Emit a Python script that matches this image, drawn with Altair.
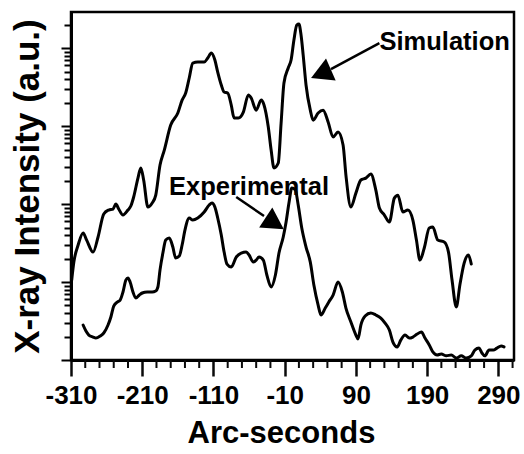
import altair as alt
import pandas as pd

# Double-crystal rocking curves: arc-seconds vs X-ray intensity (a.u.)
sim_x = [-309, -306, -300, -293, -288, -279, -272, -264, -257, -251,
         -247, -243, -237, -230, -226, -222, -216, -212, -208, -202,
         -196, -191, -185, -179, -170, -160, -154, -149, -144, -139,
         -132, -123, -118, -113, -108, -104, -99, -95, -90, -85,
         -81, -75, -68, -61, -57, -50, -43, -39, -33, -29,
         -25, -19, -15, -11, -5, -1, 3, 7, 10, 13,
         16, 20, 26, 30, 37, 44, 51, 58, 65, 72,
         76, 83, 90, 97, 104, 111, 118, 123, 130, 137,
         144, 149, 156, 163, 170, 175, 180, 186, 193, 198,
         205, 214, 220, 225, 231, 236, 242, 248, 252]
sim_y = [10.6, 18.0, 29.8, 42.5, 34.5, 24.2, 37.8, 74.5, 83.8, 86.3,
         100, 86.3, 72.3, 83.8, 94.3, 123, 215, 290, 203, 91.5,
         103, 130, 316, 492, 1030, 1470, 2150, 2650, 4130, 6420,
         6620, 6620, 7450, 8630, 7020, 4920, 3360, 2730, 2650, 1860,
         1270, 1270, 1510, 2500, 2290, 1600, 2150, 1860, 971, 492,
         290, 336, 1090, 3560, 5550, 7020, 12700, 19700, 20300, 14700,
         8130, 3360, 1600, 1190, 1470, 1600, 1130, 723, 838, 571,
         235, 91.5, 138, 203, 215, 242, 151, 88.9, 72.3, 58.8,
         119, 130, 78.9, 83.8, 62.3, 34.5, 19.1, 27.3, 49.3, 50.7,
         34.5, 32.6, 24.2, 10.6, 4.78, 9.16, 17.5, 22.2, 17.0]

exp_x = [-293, -289, -285, -279, -275, -269, -264, -258, -254, -250,
         -245, -241, -237, -233, -230, -227, -223, -219, -214, -210,
         -203, -196, -191, -188, -185, -181, -177, -172, -167, -163,
         -158, -154, -150, -144, -139, -132, -123, -116, -112, -108,
         -104, -99, -95, -91, -85, -78, -71, -64, -60, -54,
         -50, -46, -40, -35, -29, -23, -18, -12, -8, -4,
         0, 5, 9, 14, 20, 26, 31, 37, 41, 47,
         52, 58, 65, 71, 76, 83, 90, 93, 97, 103,
         111, 118, 125, 131, 137, 142, 148, 153, 159, 165,
         170, 176, 182, 187, 193, 198, 204, 210, 217, 224,
         231, 238, 245, 252, 257, 263, 267, 271, 277, 283,
         288, 294, 298]
exp_y = [2.81, 2.35, 2.09, 1.97, 1.91, 2.03, 2.22, 2.81, 3.56, 4.92,
         5.54, 5.87, 7.45, 10.6, 11.3, 10.0, 7.45, 6.24, 6.81, 7.23,
         7.45, 7.45, 7.67, 8.63, 14.3, 23.5, 34.5, 36.6, 28.1, 20.3,
         21.5, 29.8, 46.4, 66.2, 62.3, 66.2, 78.9, 97.1, 103, 91.5,
         66.2, 40.1, 24.2, 17.0, 15.6, 20.9, 23.5, 24.2, 22.2, 18.0,
         19.1, 20.9, 19.1, 12.3, 8.63, 12.3, 23.5, 37.8, 58.8, 103,
         160, 151, 97.1, 49.3, 28.1, 18.0, 9.16, 5.07, 3.78, 4.64,
         5.54, 6.81, 10.0, 7.45, 4.64, 3.07, 2.09, 1.86, 2.81, 3.67,
         4.01, 3.78, 3.45, 2.98, 2.43, 1.70, 1.47, 1.80, 2.09, 1.91,
         1.97, 2.15, 2.29, 1.91, 1.56, 1.27, 1.16, 1.19, 1.13, 1.16,
         1.06, 1.13, 1.06, 1.13, 1.34, 1.42, 1.23, 1.13, 1.34, 1.34,
         1.42, 1.51, 1.47]

# Axis ticks: labelled every 100 arc-seconds, minor every 20; log decades on y
x_major = [-310, -210, -110, -10, 90, 190, 290]
x_minor = [v for v in range(-310, 311, 20) if v not in x_major]
y_ticks = [m * 10 ** k for k in range(0, 5) for m in range(1, 10) if m * 10 ** k <= 29000]

# Callout labels, arrow shafts and arrowheads (data coordinates)
label_text = ["Simulation", "Experimental"]
label_x = [214.6, -60]
label_y = [9425, 130]
shaft_x = [123, -78]
shaft_y = [11590, 123]
shaft_x2 = [55, -39]
shaft_y2 = [5380, 70.2]
head_x = [42.5, -25.3]
head_y = [4753, 57.6]
# Filled triangles pointing along each arrow (unit-box symbol paths)
head_paths = ["M-0.916,0.402L1.135,0.594L0.331,-1.238Z",
              "M0.837,0.548L-0.122,-1.275L-1.218,0.399Z"]

FONT = "Liberation Sans, Arial, Helvetica, sans-serif"
INK = "#0a0a0a"

curves = pd.DataFrame({
    "arcsec": sim_x + exp_x,
    "intensity": sim_y + exp_y,
    "series": ["Simulation"] * len(sim_x) + ["Experimental"] * len(exp_x),
})
minor = pd.DataFrame({"arcsec": x_minor})
labels = pd.DataFrame({"arcsec": label_x, "intensity": label_y, "text": label_text})
shafts = pd.DataFrame({"arcsec": shaft_x, "intensity": shaft_y,
                       "arcsec2": shaft_x2, "intensity2": shaft_y2})

x_scale = alt.Scale(domain=[-310, 312], nice=False, zero=False)
y_scale = alt.Scale(type="log", domain=[1, 29000], nice=False)

x_axis = alt.Axis(
    values=x_major, tickSize=16, tickColor=INK, tickWidth=2.5, grid=False,
    domainColor="black", domainWidth=3,
    labelExpr="(datum.value < 0 ? '-' : '') + abs(datum.value)",
    labelFont=FONT, labelFontSize=26, labelFontWeight="bold", labelColor="black",
    labelPadding=6, labelOverlap=False, labelFlush=False,
    title="Arc-seconds", titleFont=FONT, titleFontSize=31, titleFontWeight="bold",
    titleColor="black", titlePadding=10, titleX=210, titleAlign="center",
)
y_axis = alt.Axis(
    values=y_ticks, tickColor="black", tickWidth=2, grid=False,
    domainColor="black", domainWidth=3,
    tickSize={"condition": {"test": "abs(log(datum.value) / LN10 - round(log(datum.value) / LN10)) < 0.001",
                            "value": 10}, "value": 7},
    labels=False,
    title="X-ray Intensity (a.u.)", titleFont=FONT, titleFontSize=35, titleFontWeight="bold",
    titleColor="black", titlePadding=15,
)

lines = alt.Chart(curves).mark_line(
    color="black", strokeWidth=3, interpolate="monotone", strokeJoin="round", strokeCap="round"
).encode(
    x=alt.X("arcsec:Q", scale=x_scale, axis=x_axis),
    y=alt.Y("intensity:Q", scale=y_scale, axis=y_axis),
    detail="series:N",
)

# Short minor ticks under the bottom axis
minor_ticks = alt.Chart(minor).mark_rule(color=INK, strokeWidth=2).encode(
    x="arcsec:Q", y=alt.value(348), y2=alt.value(356)
)

texts = alt.Chart(labels).mark_text(
    font=FONT, fontSize=25.5, fontWeight="bold", color="black", align="center", baseline="alphabetic"
).encode(x="arcsec:Q", y="intensity:Q", text="text:N")

arrows = alt.Chart(shafts).mark_rule(color="black", strokeWidth=2.5).encode(
    x="arcsec:Q", y="intensity:Q", x2="arcsec2:Q", y2="intensity2:Q"
)

tips = [
    alt.Chart(pd.DataFrame({"arcsec": [hx], "intensity": [hy]})).mark_point(
        shape=path, filled=True, size=576, color="black", opacity=1, strokeWidth=0
    ).encode(x="arcsec:Q", y="intensity:Q")
    for hx, hy, path in zip(head_x, head_y, head_paths)
]

chart = alt.layer(lines, minor_ticks, arrows, *tips, texts).properties(
    width=443, height=348,
    padding={"left": 10, "top": 12, "right": 0, "bottom": 0},
).configure_view(
    stroke="black", strokeWidth=2.5
)

chart.save("out.html", embed_options={"renderer": "svg", "actions": False})
